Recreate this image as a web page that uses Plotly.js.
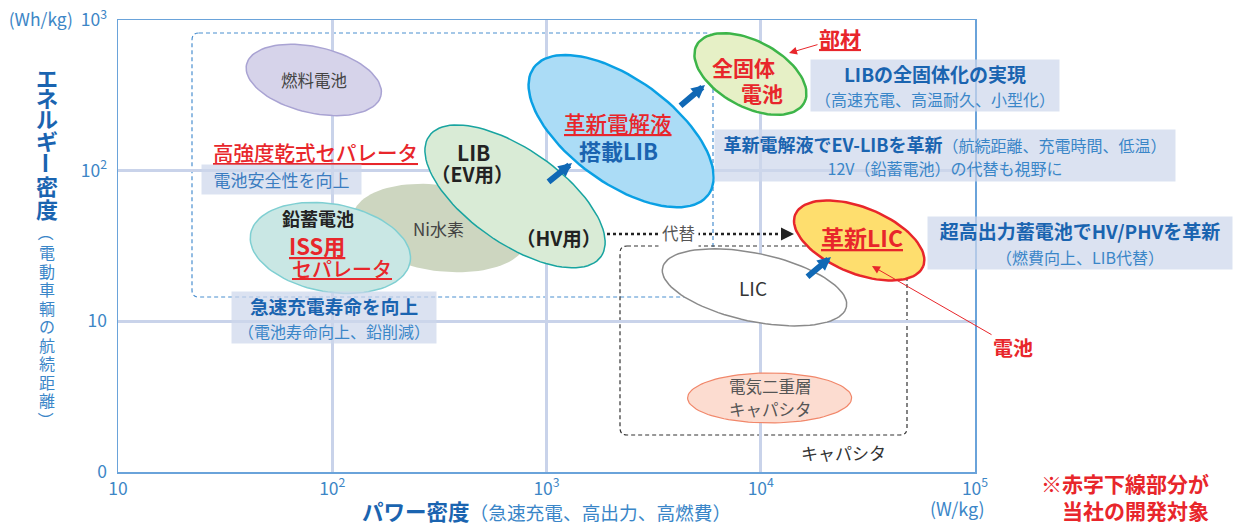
<!DOCTYPE html>
<html>
<head>
<meta charset="utf-8">
<script src="https://cdn.plot.ly/plotly-3.0.1.min.js"></script>
<style>
  html, body { margin: 0; padding: 0; background: #fff; }
  #chart { width: 1233px; height: 525px; }
</style>
</head>
<body>
<div id="chart"></div>
<script>
// centre of each technology region: power density (W/kg), energy density (Wh/kg)
const techNames = ['Ni水素', '鉛蓄電池', 'LIB', '燃料電池', '革新電解液LIB', '全固体電池', 'LIC', '革新LIC', '電気二重層キャパシタ'];
const techPower = [318, 98, 713, 82, 2230, 8950, 9350, 28800, 11000];
const techEnergy = [41.6, 30.7, 67.5, 400, 183, 438, 16.8, 34.4, 3.1];

const xTickVals = [10, 100, 1000, 10000, 100000];
const xTickText = ['10', '10<sup>2</sup>', '10<sup>3</sup>', '10<sup>4</sup>', '10<sup>5</sup>'];
const yTickVals = [1, 10, 100, 1000];
const yTickText = ['0', '10', '10<sup>2</sup>', '(Wh/kg)  10<sup>3</sup>'];

// ellipse look (semi axes in px, tilt in degrees)
const ellA = [88, 81, 105, 69, 108, 61, 94, 69, 82];
const ellB = [43, 44, 47, 33, 52, 33, 34, 33, 25];
const ellTilt = [8, 10, 35, 13, 36, 28, 12, 22, 0];
const ellFill = ['#cdd6c0', '#c9e7e4', '#d9ebd6', '#d6d3ea', '#abdcf6', '#e6f0c6', '#ffffff', '#fede6e', '#fcdcd0'];
const ellLine = ['rgba(0,0,0,0)', '#7fcfd2', '#18a4a0', '#a9a3d3', '#0aa0e4', '#3db549', '#8a8a8a', '#e8262b', '#f1876a'];
const ellLineW = [0, 1.5, 1.5, 1.5, 2.5, 2.5, 1.5, 2.5, 1.2];

const FONT = '"Noto Sans CJK JP", "Noto Sans", sans-serif';
const RED = '#e8262b';
const BLUE = '#1a64b0';
const LBLUE = '#3a86c8';

const W = 1233, H = 525;
const M = { l: 118, r: 258, t: 20, b: 53 };
const PW = W - M.l - M.r, PH = H - M.t - M.b;
const pxPerDecX = PW / 4, pxPerDecY = PH / 3;

function px2x(x) { return (x - M.l) / PW; }
function px2y(y) { return (H - M.b - y) / PH; }

function ellipse(cx, cy, a, b, tilt) {
    const th = tilt * Math.PI / 180;
    const lx0 = Math.log10(cx), ly0 = Math.log10(cy);
    const xs = [], ys = [];
    for (let i = 0; i <= 96; i++) {
        const t = i / 96 * 2 * Math.PI;
        const dx = a * Math.cos(t) * Math.cos(th) - b * Math.sin(t) * Math.sin(th);
        const dy = a * Math.cos(t) * Math.sin(th) + b * Math.sin(t) * Math.cos(th);
        xs.push(Math.pow(10, lx0 + dx / pxPerDecX));
        ys.push(Math.pow(10, ly0 - dy / pxPerDecY));
    }
    return { xs, ys };
}

const traces = techNames.map((name, i) => {
    const e = ellipse(techPower[i], techEnergy[i], ellA[i], ellB[i], ellTilt[i]);
    return {
        x: e.xs, y: e.ys, name: name,
        type: 'scatter', mode: 'lines', fill: 'toself',
        fillcolor: ellFill[i],
        line: { color: ellLine[i], width: ellLineW[i] },
        hoverinfo: 'skip', showlegend: false
    };
});

// rounded dashed frames
function roundRect(x0, y0, x1, y1, r) {
    const p = (x, y) => px2x(x) + ',' + px2y(y);
    return 'M' + p(x0 + r, y0) + ' L' + p(x1 - r, y0) + ' Q' + p(x1, y0) + ' ' + p(x1, y0 + r) +
        ' L' + p(x1, y1 - r) + ' Q' + p(x1, y1) + ' ' + p(x1 - r, y1) +
        ' L' + p(x0 + r, y1) + ' Q' + p(x0, y1) + ' ' + p(x0, y1 - r) +
        ' L' + p(x0, y0 + r) + ' Q' + p(x0, y0) + ' ' + p(x0 + r, y0) + ' Z';
}

const shapes = [
    { type: 'path', xref: 'paper', yref: 'paper', layer: 'below', path: roundRect(192, 33, 713, 297, 7),
      line: { color: '#4a8fd0', width: 1.2, dash: '4px,3px' } },
    { type: 'path', xref: 'paper', yref: 'paper', layer: 'below', path: roundRect(620, 246, 907, 435, 7),
      line: { color: '#333', width: 1.2, dash: '4px,3px' } },
    { type: 'line', xref: 'paper', yref: 'paper', layer: 'above',
      x0: px2x(607), y0: px2y(234), x1: px2x(786), y1: px2y(234),
      line: { color: '#222', width: 2.5, dash: 'dot' } }
];

function txt(text, x, y, size, color, extra) {
    return Object.assign({
        xref: 'paper', yref: 'paper', x: px2x(x), y: px2y(y), text: text,
        showarrow: false, xanchor: 'center', yanchor: 'middle',
        font: { family: FONT, size: size, color: color }
    }, extra || {});
}

function box(text, x0, y0, x1, y1, size) {
    return txt(text, (x0 + x1) / 2, (y0 + y1) / 2, size, BLUE, {
        bgcolor: 'rgba(205,215,236,0.72)', width: x1 - x0, height: y1 - y0,
        borderpad: 0, align: 'center', valign: 'middle'
    });
}

function arrow(hx, hy, tx, ty, color, width, size) {
    return {
        xref: 'paper', yref: 'paper', x: px2x(hx), y: px2y(hy),
        ax: tx - hx, ay: ty - hy, text: '', showarrow: true,
        arrowhead: 2, arrowsize: size, arrowwidth: width, arrowcolor: color, standoff: 0
    };
}

const medium = (size, color) => ({ font: { family: FONT, size: size, color: color, weight: 500 } });
const sub = '<br><span style="font-size:16px;color:#3a86c8">';

const annotations = [
    // labels inside the regions
    txt('燃料電池', 314, 80, 16.5, '#444'),
    txt('<b>LIB</b>', 473, 152, 21, '#222'),
    txt('<b>（EV用）</b>', 472, 173, 19.5, '#222'),
    txt('<b>（HV用）</b>', 558, 237, 19.5, '#222'),
    txt('Ni水素', 438, 228, 17, '#444'),
    txt('<b>鉛蓄電池</b>', 318, 218, 18, '#222'),
    txt('<b><u>ISS用</u></b>', 317, 245, 22, RED),
    txt('<u>セパレータ</u>', 342, 268, 20, RED, medium(20, RED)),
    txt('<u>革新電解液</u>', 618, 122, 21.5, RED, medium(21.5, RED)),
    txt('<b>搭載LIB</b>', 618, 150, 22, BLUE),
    txt('<b>全固体</b>', 743, 67, 21, RED),
    txt('<b>電池</b>', 762, 93, 21, RED),
    txt('<b><u>革新LIC</u></b>', 862, 237, 23, RED),
    txt('LIC', 753, 287, 19, '#333'),
    txt('電気二重層', 770, 386, 16.5, '#555'),
    txt('キャパシタ', 770, 409, 16.5, '#555'),
    txt('キャパシタ', 843, 452, 17, '#333'),

    // red heading
    txt('<u>高強度乾式セパレータ</u>', 315, 152, 20.5, RED, medium(20.5, RED)),

    // explanation boxes
    box('<span style="color:#3a7cc0">電池安全性を向上</span>', 202, 165, 361, 194, 17),
    box('<b>急速充電寿命を向上</b>' + sub + '（電池寿命向上、鉛削減）</span>', 232, 292, 436, 343, 18.7),
    box('<b>LIBの全固体化の実現</b>' + sub + '（高速充電、高温耐久、小型化）</span>', 811, 60, 1059, 111, 19),
    box('<b>革新電解液でEV-LIBを革新</b><span style="font-size:16px;color:#3a86c8">（航続距離、充電時間、低温）</span>' + sub + '12V（鉛蓄電池）の代替も視野に</span>', 715, 130, 1175, 181, 18),
    box('<b>超高出力蓄電池でHV/PHVを革新</b>' + sub + '（燃費向上、LIB代替）</span>', 928, 217, 1232, 269, 19),

    // blue development arrows
    arrow(572, 163, 547, 183, '#1068b5', 6, 0.45),
    arrow(705, 85, 679, 107, '#1068b5', 6, 0.45),
    arrow(831, 257, 806, 278, '#1068b5', 6, 0.45),

    // substitution arrow
    arrow(794, 234, 782, 234, '#222', 2, 1.3),
    txt('代替', 678, 233, 16.5, '#555', { bgcolor: '#fff', borderpad: 3 }),

    // red call-outs
    Object.assign(arrow(789, 53, 840, 38, RED, 1, 1.6), { text: '<b><u>部材</u></b>', font: { family: FONT, size: 21, color: RED } }),
    Object.assign(arrow(872, 266, 1013, 347, RED, 1, 1.6), { text: '<b>電池</b>', font: { family: FONT, size: 20, color: RED } }),

    // note
    txt('<b>※赤字下線部分が</b>', 1211, 483, 21, RED, { xanchor: 'right' }),
    txt('<b>当社の開発対象</b>', 1211, 510, 21, RED, { xanchor: 'right' }),

    // axis title / unit
    txt('<b>パワー密度</b><span style="font-size:18.7px;color:#3a86c8">（急速充電、高出力、高燃費）</span>', 546, 510, 21.5, BLUE),
    txt('(W/kg)', 957, 508, 18, LBLUE)
];

// vertical y axis title, one character per line; ー and brackets turned upright-vertical
const yTitleMain = ['エ', 'ネ', 'ル', 'ギ', 'ー', '密', '度'];
const yTitleMainY = [77, 97, 118, 140, 163, 185, 208];
yTitleMain.forEach((c, i) => {
    annotations.push(txt('<b>' + c + '</b>', 47, yTitleMainY[i], 22, BLUE, c === 'ー' ? { textangle: 90 } : {}));
});
const yTitleSub = ['（', '電', '動', '車', '輌', 'の', '航', '続', '距', '離', '）'];
yTitleSub.forEach((c, i) => {
    const y = i === 0 ? 233 : (i === yTitleSub.length - 1 ? 420 : 252 + (i - 1) * 18.5);
    annotations.push(txt(c, 47, y, 16, LBLUE, (c === '（' || c === '）') ? { textangle: 90 } : {}));
});

const axisStyle = {
    type: 'log', showgrid: true, gridcolor: '#c9d3ea', gridwidth: 3,
    showline: true, linecolor: '#6aa3da', linewidth: 1.5, mirror: true,
    ticks: '', zeroline: false, fixedrange: true,
    tickfont: { family: FONT, size: 17.5, color: '#3d86c6' }
};

const layout = {
    width: W, height: H,
    margin: { l: M.l, r: M.r, t: M.t, b: M.b, pad: 0 },
    paper_bgcolor: '#fff', plot_bgcolor: '#fff',
    showlegend: false,
    font: { family: FONT, color: '#333' },
    xaxis: Object.assign({}, axisStyle, { range: [1, 5], tickvals: xTickVals, ticktext: xTickText }),
    yaxis: Object.assign({}, axisStyle, { range: [0, 3], tickvals: yTickVals, ticktext: yTickText, ticklabelstandoff: 6 }),
    shapes: shapes,
    annotations: annotations
};

Plotly.newPlot('chart', traces, layout, { staticPlot: true, displayModeBar: false });
</script>
</body>
</html>
